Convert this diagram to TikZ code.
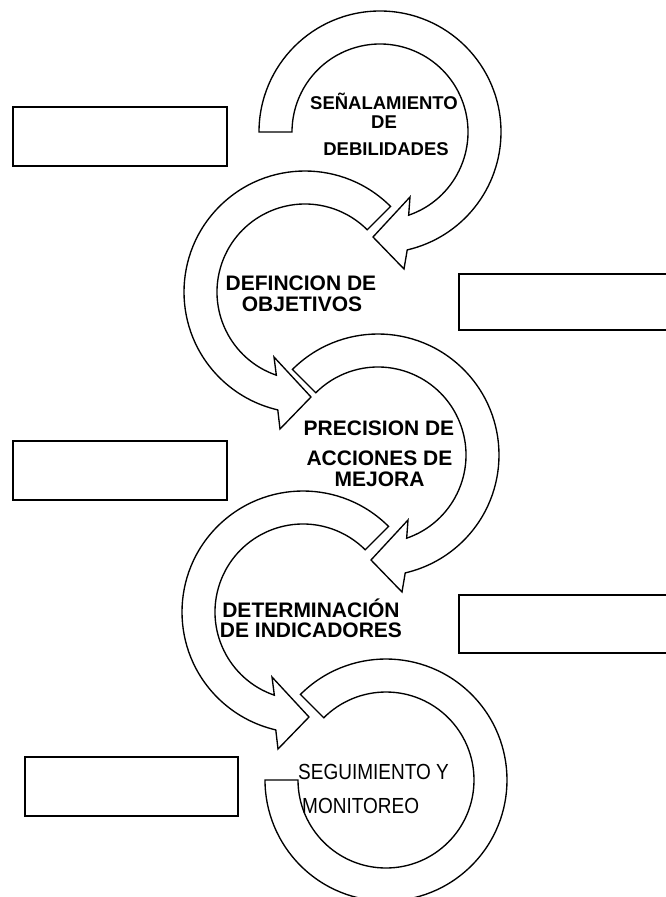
\documentclass[tikz,border=0pt]{standalone}
\usepackage{fontspec}
\setmainfont{Liberation Sans}
\begin{document}
\begin{tikzpicture}[x=1pt,y=-1pt,
  ringarrow/.style={draw=black, line width=1.35pt, fill=white, line join=miter},
  blankbox/.style={draw=black, line width=2.2pt, fill=white},
  lblA/.style={font=\bfseries\fontsize{18.5}{22}\selectfont, anchor=base, inner sep=0pt},
  lblB/.style={font=\bfseries\fontsize{21}{24}\selectfont, anchor=base, inner sep=0pt},
  lblC/.style={font=\fontsize{19}{22}\selectfont, anchor=base west, inner sep=0pt}]
\useasboundingbox (0,0) rectangle (666,897);

% empty boxes
\draw[blankbox] (13,107) rectangle (227,166);
\draw[blankbox] (459,274) rectangle (672,330);
\draw[blankbox] (13,441) rectangle (227,500);
\draw[blankbox] (459,595) rectangle (672,653);
\draw[blankbox] (25,757) rectangle (238,816);

% arrow 1
\begin{scope}[shift={(380,132)}]
\draw[ringarrow] (180:121) arc[start angle=180, end angle=437, radius=121]
  -- (24,137) -- (-7,105) -- (30,65) -- (431:88)
  arc[start angle=431, end angle=180, radius=88] -- cycle;
\end{scope}
% arrow 2
\begin{scope}[shift={(305,292)}]
\draw[ringarrow] (315:121) arc[start angle=315, end angle=103, radius=121]
  -- (-25,137) -- (6,105) -- (-31,65) -- (109:88)
  arc[start angle=109, end angle=315, radius=88] -- cycle;
\end{scope}
% arrow 3
\begin{scope}[shift={(378,455)}]
\draw[ringarrow] (225:121) arc[start angle=225, end angle=437, radius=121]
  -- (24,137) -- (-7,105) -- (30,65) -- (431:88)
  arc[start angle=431, end angle=225, radius=88] -- cycle;
\end{scope}
% arrow 4
\begin{scope}[shift={(303,612)}]
\draw[ringarrow] (315:121) arc[start angle=315, end angle=103, radius=121]
  -- (-25,137) -- (6,105) -- (-31,65) -- (109:88)
  arc[start angle=109, end angle=315, radius=88] -- cycle;
\end{scope}
% arrow 5
\begin{scope}[shift={(386,780)}]
\draw[ringarrow] (225:121) arc[start angle=225, end angle=540, radius=121]
  -- (180:88) arc[start angle=540, end angle=225, radius=88] -- cycle;
\end{scope}

% labels
\node[lblA] (t1a) at (384,109) {SEÑALAMIENTO};
\node[lblA] (t1b) at (384,128) {DE};
\node[lblA] (t1c) at (386,155) {DEBILIDADES};
\node[lblB] (t2a) at (301,290) {DEFINCION DE};
\node[lblB] (t2b) at (302,311) {OBJETIVOS};
\node[lblB] (t3a) at (379,435) {PRECISION DE};
\node[lblB] (t3b) at (379.5,465) {ACCIONES DE};
\node[lblB] (t3c) at (379.5,486) {MEJORA};
\node[lblB] (t4a) at (311,617) {DETERMINACIÓN};
\node[lblB] (t4b) at (311,637) {DE INDICADORES};
\node[lblC] (t5a) at (298,779) {\scalebox{1}[1.15]{SEGUIMIENTO Y}};
\node[lblC] (t5b) at (302,813) {\scalebox{1}[1.15]{MONITOREO}};
\end{tikzpicture}
\end{document}
